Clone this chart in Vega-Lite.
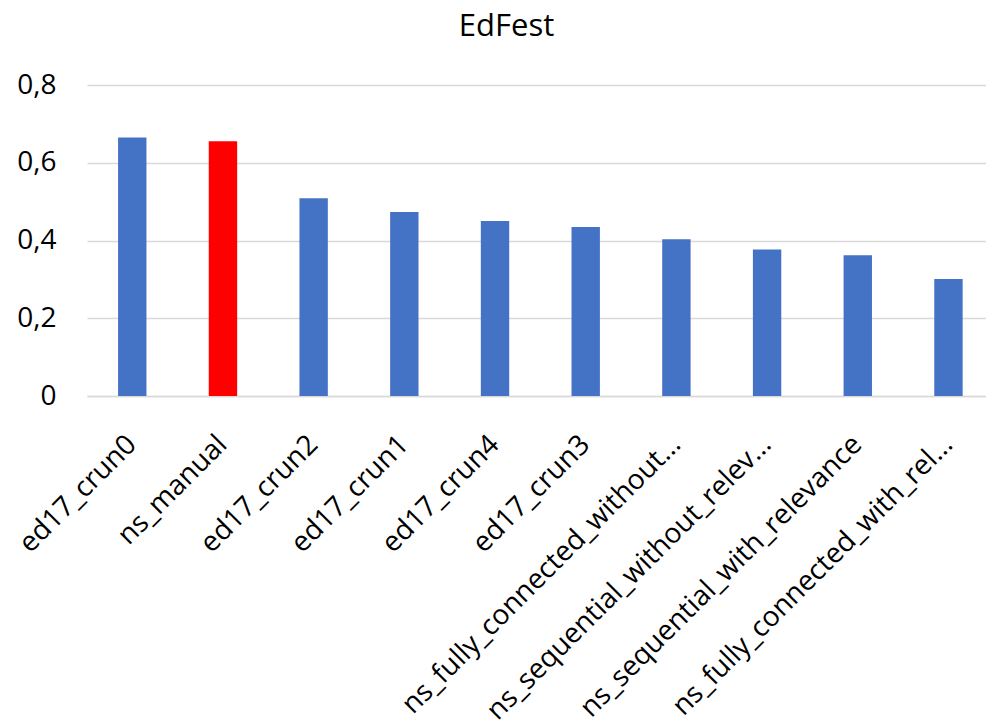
{
  "$schema": "https://vega.github.io/schema/vega-lite/v6.json",
  "width": 899,
  "height": 311,
  "autosize": "none",
  "padding": {"left": 87, "top": 85, "right": 0, "bottom": 329},
  "background": "white",
  "title": {
    "text": "EdFest",
    "font": "Open Sans",
    "fontSize": 31,
    "fontWeight": "normal",
    "color": "#000000",
    "anchor": "middle",
    "dx": -30,
    "offset": 28
  },
  "data": {
    "values": [
      {"run": "ed17_crun0", "score": 0.665, "kind": "automatic"},
      {"run": "ns_manual", "score": 0.655, "kind": "manual"},
      {"run": "ed17_crun2", "score": 0.509, "kind": "automatic"},
      {"run": "ed17_crun1", "score": 0.473, "kind": "automatic"},
      {"run": "ed17_crun4", "score": 0.45, "kind": "automatic"},
      {"run": "ed17_crun3", "score": 0.435, "kind": "automatic"},
      {"run": "ns_fully_connected_without_relevance", "score": 0.403, "kind": "automatic"},
      {"run": "ns_sequential_without_relevance", "score": 0.377, "kind": "automatic"},
      {"run": "ns_sequential_with_relevance", "score": 0.362, "kind": "automatic"},
      {"run": "ns_fully_connected_with_relevance", "score": 0.301, "kind": "automatic"}
    ]
  },
  "mark": {"type": "bar"},
  "encoding": {
    "x": {
      "field": "run",
      "type": "nominal",
      "sort": null,
      "scale": {"paddingInner": 0.687, "paddingOuter": 0.3, "align": 0.571},
      "axis": {
        "title": null,
        "labelAngle": -45,
        "labelAlign": "right",
        "labelBaseline": "middle",
        "labelFont": "Open Sans",
        "labelFontSize": 28,
        "labelColor": "#000000",
        "labelPadding": 44,
        "labelLimit": 392,
        "ticks": false,
        "domain": true,
        "domainColor": "#d9d9d9",
        "domainWidth": 1.5,
        "grid": false
      }
    },
    "y": {
      "field": "score",
      "type": "quantitative",
      "scale": {"domain": [0, 0.8], "nice": false},
      "axis": {
        "title": null,
        "values": [0, 0.2, 0.4, 0.6, 0.8],
        "labelExpr": "replace(format(datum.value, '~g'), '.', ',')",
        "labelFont": "Open Sans",
        "labelFontSize": 28,
        "labelColor": "#000000",
        "labelPadding": 31,
        "ticks": false,
        "domain": false,
        "grid": true,
        "gridColor": "#d9d9d9",
        "gridWidth": 1.5
      }
    },
    "color": {
      "field": "kind",
      "type": "nominal",
      "scale": {"domain": ["automatic", "manual"], "range": ["#4472C4", "#FF0000"]},
      "legend": null
    }
  },
  "config": {"view": {"stroke": null}}
}
